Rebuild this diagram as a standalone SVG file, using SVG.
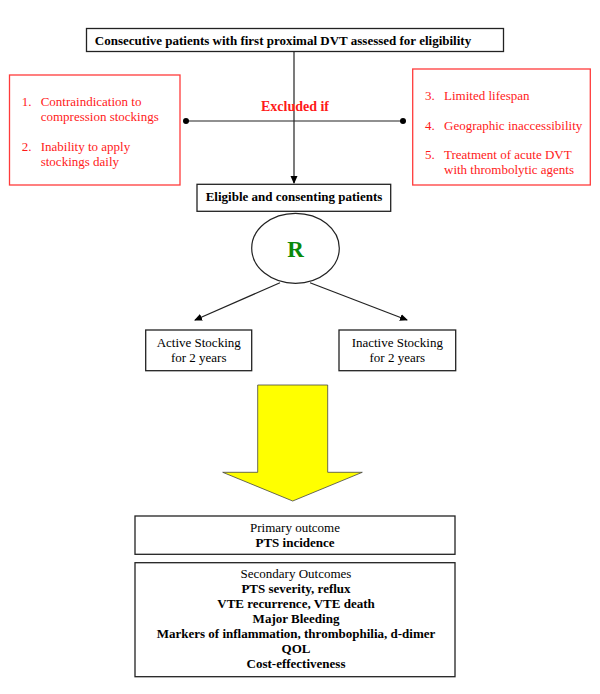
<svg xmlns="http://www.w3.org/2000/svg" width="600" height="694" viewBox="0 0 600 694">
<defs>
<style>
.box{fill:#fff;stroke:#222;stroke-width:1.3}
.rbox{fill:#fff;stroke:#ff3b3b;stroke-width:1.3}
.t{font-family:"Liberation Serif","Times New Roman",serif;font-size:13px;fill:#000}
.b{font-weight:bold}
.c{text-anchor:middle}
.r{fill:#ff1a1a}
.ln{stroke:#222;stroke-width:1.2;fill:none}
</style>
<marker id="ah" markerWidth="8" markerHeight="8" refX="7" refY="4" orient="auto" markerUnits="userSpaceOnUse">
<path d="M0,0.5 L8,4 L0,7.5 Z" fill="#000"/>
</marker>
</defs>
<rect width="600" height="694" fill="#fff"/>

<g id="connectors">
<line class="ln" x1="294" y1="52" x2="294" y2="183" marker-end="url(#ah)"/>
<line class="ln" x1="186" y1="121" x2="403" y2="121"/>
<circle cx="186" cy="121" r="3" fill="#000"/>
<circle cx="403" cy="121" r="3" fill="#000"/>
<line class="ln" x1="280" y1="282.7" x2="195" y2="320" marker-end="url(#ah)"/>
<line class="ln" x1="310" y1="282.7" x2="407" y2="320" marker-end="url(#ah)"/>
</g>

<g id="screening">
<rect class="box" x="86.5" y="28.5" width="417" height="23"/>
<text class="t b c" x="283" y="44.5">Consecutive patients with first proximal DVT assessed for eligibility</text>
</g>

<g id="excluded-label">
<text class="t b c r" x="295" y="111" style="font-size:14px">Excluded if</text>
</g>

<g id="exclusions-left">
<rect class="rbox" x="9.5" y="75" width="170.5" height="110"/>
<text class="t r" x="21.7" y="106">1.</text>
<text class="t r" x="40.7" y="106">Contraindication to</text>
<text class="t r" x="40.7" y="121">compression stockings</text>
<text class="t r" x="21.7" y="150.7">2.</text>
<text class="t r" x="40.7" y="150.7">Inability to apply</text>
<text class="t r" x="40.7" y="165.7">stockings daily</text>
</g>

<g id="exclusions-right">
<rect class="rbox" x="412.7" y="69" width="177.6" height="116"/>
<text class="t r" x="425" y="100">3.</text>
<text class="t r" x="444" y="100">Limited lifespan</text>
<text class="t r" x="425" y="130">4.</text>
<text class="t r" x="444" y="130">Geographic inaccessibility</text>
<text class="t r" x="425" y="159.3">5.</text>
<text class="t r" x="444" y="159.3">Treatment of acute DVT</text>
<text class="t r" x="444" y="174.3">with thrombolytic agents</text>
</g>

<g id="eligible">
<rect class="box" x="197" y="184.3" width="193.7" height="27"/>
<text class="t b c" x="294" y="201">Eligible and consenting patients</text>
</g>

<g id="randomization">
<ellipse cx="295.5" cy="248.3" rx="43.8" ry="35" fill="#fff" stroke="#222" stroke-width="1.2"/>
<text class="t b c" x="295.5" y="257" style="font-size:23px;fill:#0a8a0a">R</text>
</g>

<g id="active">
<rect class="box" x="145.7" y="330" width="106" height="40.7"/>
<text class="t c" x="198.7" y="346.7">Active Stocking</text>
<text class="t c" x="198.7" y="361.7">for 2 years</text>
</g>

<g id="inactive">
<rect class="box" x="339" y="330" width="116.7" height="40.7"/>
<text class="t c" x="397.3" y="346.7">Inactive Stocking</text>
<text class="t c" x="397.3" y="361.7">for 2 years</text>
</g>

<g id="big-arrow">
<path d="M257.7,385 L327.7,385 L327.7,472.3 L362.3,472.3 L292.7,501 L222.7,472.3 L257.7,472.3 Z" fill="#ffff00" stroke="#444" stroke-width="0.8"/>
</g>

<g id="primary">
<rect class="box" x="135" y="516" width="320" height="38.3"/>
<text class="t c" x="295" y="532">Primary outcome</text>
<text class="t b c" x="295" y="547">PTS incidence</text>
</g>

<g id="secondary">
<rect class="box" x="135" y="562.7" width="320" height="114"/>
<text class="t c" x="296" y="578.3">Secondary Outcomes</text>
<text class="t b c" x="296" y="593.3">PTS severity, reflux</text>
<text class="t b c" x="296" y="608.3">VTE recurrence, VTE death</text>
<text class="t b c" x="296" y="623.3">Major Bleeding</text>
<text class="t b c" x="296" y="638.3">Markers of inflammation, thrombophilia, d-dimer</text>
<text class="t b c" x="296" y="653.3">QOL</text>
<text class="t b c" x="296" y="668.3">Cost-effectiveness</text>
</g>
</svg>
